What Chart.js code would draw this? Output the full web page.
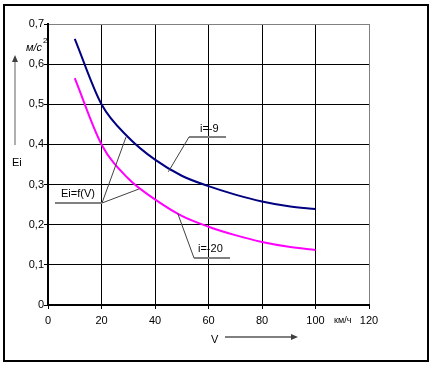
<!DOCTYPE html>
<html>
<head>
<meta charset="utf-8">
<script src="https://cdn.jsdelivr.net/npm/chart.js@4/dist/chart.umd.min.js"></script>
<style>
  body { margin: 0; background: #fff; }
  canvas { display: block; }
</style>
</head>
<body>
<canvas id="chart" width="433" height="367"></canvas>
<script>
const speeds = [10, 20, 30, 40, 50, 60, 70, 80, 90, 100];
const accelI9 = [0.663, 0.5, 0.418, 0.362, 0.322, 0.296, 0.275, 0.258, 0.246, 0.239];
const accelI20 = [0.565, 0.4, 0.315, 0.263, 0.222, 0.195, 0.174, 0.157, 0.145, 0.137];
const xTicks = [0, 20, 40, 60, 80, 100, 120];
const yTicks = [0, 0.1, 0.2, 0.3, 0.4, 0.5, 0.6, 0.7];

const font = "Liberation Sans, Arial, sans-serif";

function toPoints(ys) {
  return speeds.map((v, i) => ({ x: v, y: ys[i] }));
}

// leader lines + labels, positions in data units
const extras = {
  id: "extras",
  afterDraw(chart) {
    const c = chart.ctx;
    const x = chart.scales.x, y = chart.scales.y;
    const px = v => x.getPixelForValue(v);
    const py = v => y.getPixelForValue(v);
    c.save();

    // frame
    c.strokeStyle = "#000";
    c.lineWidth = 2;
    c.strokeRect(4, 5, 424, 356);

    c.font = "11px " + font;
    c.fillStyle = "#000";
    c.textBaseline = "middle";

    function label(text, tx, ty, ux0, ux1, uy, leaders) {
      c.textAlign = "left";
      c.fillText(text, tx, ty);
      c.strokeStyle = "#808080";
      c.lineWidth = 2;
      c.beginPath();
      c.moveTo(ux0, uy);
      c.lineTo(ux1, uy);
      c.stroke();
      c.strokeStyle = "#404040";
      c.lineWidth = 1;
      leaders.forEach(l => {
        c.beginPath();
        c.moveTo(l[0], l[1]);
        c.lineTo(l[2], l[3]);
        c.stroke();
      });
    }

    label("i=-9", 200, 129, 189, 226, 137, [[189, 137, px(45), py(0.332)]]);
    label("i=-20", 198, 249, 194, 230, 258, [[194, 258, px(48.5), py(0.228)]]);
    label("Ei=f(V)", 61, 194, 55, 102, 203, [
      [102, 203, px(29.2), py(0.419)],
      [102, 203, px(34), py(0.289)]
    ]);

    // axis names
    c.textAlign = "left";
    c.font = "italic 11px " + font;
    c.fillText("м/с", 26, 48);
    c.font = "8px " + font;
    c.fillText("2", 43, 41);
    c.font = "11px " + font;
    c.fillText("Ei", 12, 163);
    c.fillText("V", 211, 340);
    c.font = "9px " + font;
    c.fillText("км/ч", 334, 321);

    // arrows
    c.strokeStyle = "#606060";
    c.lineWidth = 1;
    c.beginPath();
    c.moveTo(15, 145);
    c.lineTo(15, 58);
    c.stroke();
    c.fillStyle = "#404040";
    c.beginPath();
    c.moveTo(15, 55);
    c.lineTo(12, 62);
    c.lineTo(18, 62);
    c.closePath();
    c.fill();

    c.strokeStyle = "#808080";
    c.lineWidth = 2;
    c.beginPath();
    c.moveTo(225, 337);
    c.lineTo(294, 337);
    c.stroke();
    c.fillStyle = "#404040";
    c.beginPath();
    c.moveTo(298, 337);
    c.lineTo(291, 334);
    c.lineTo(291, 340);
    c.closePath();
    c.fill();

    c.restore();
  }
};

new Chart(document.getElementById("chart").getContext("2d"), {
  type: "scatter",
  data: {
    datasets: [
      {
        label: "i=-9",
        data: toPoints(accelI9),
        showLine: true,
        borderColor: "#000080",
        borderWidth: 2,
        pointRadius: 0,
        cubicInterpolationMode: "monotone",
      },
      {
        label: "i=-20",
        data: toPoints(accelI20),
        showLine: true,
        borderColor: "#ff00ff",
        borderWidth: 2,
        pointRadius: 0,
        cubicInterpolationMode: "monotone",
      },
    ],
  },
  options: {
    responsive: false,
    animation: false,
    events: [],
    layout: { padding: { left: 0, right: 64, top: 24, bottom: 42 } },
    plugins: { legend: { display: false }, tooltip: { enabled: false } },
    scales: {
      x: {
        type: "linear",
        min: 0,
        max: 120,
        afterBuildTicks: s => { s.ticks = xTicks.map(v => ({ value: v })); },
        afterFit: s => { s.height = 20; },
        border: { color: "#000", width: 2 },
        grid: {
          color: ctx => (ctx.tick && ctx.tick.value === 120 ? "#808080" : "#000"),
          lineWidth: 1,
          tickLength: 4,
          tickColor: "#000",
        },
        ticks: { color: "#000", padding: 5, font: { family: font, size: 11 } },
      },
      y: {
        min: 0,
        max: 0.7,
        afterBuildTicks: s => { s.ticks = yTicks.map(v => ({ value: v })); },
        afterFit: s => { s.width = 48; },
        border: { color: "#000", width: 2 },
        grid: {
          color: ctx => (ctx.tick && Math.abs(ctx.tick.value - 0.7) < 1e-9 ? "#808080" : "#000"),
          lineWidth: 1,
          tickLength: 4,
          tickColor: "#000",
        },
        ticks: {
          color: "#000",
          padding: 0,
          font: { family: font, size: 11 },
          callback: v => (v === 0 ? "0" : v.toFixed(1).replace(".", ",")),
        },
      },
    },
  },
  plugins: [extras],
});
</script>
</body>
</html>
